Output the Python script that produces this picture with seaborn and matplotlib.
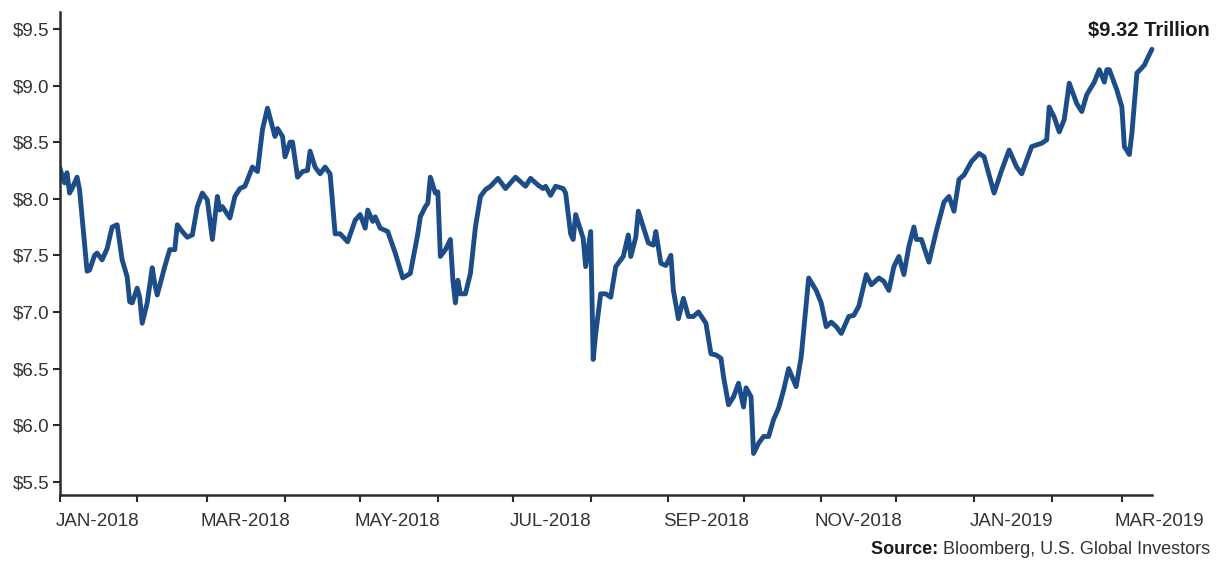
import numpy as np
import pandas as pd
import matplotlib
matplotlib.use("Agg")
import matplotlib.pyplot as plt
import matplotlib.dates as mdates
import matplotlib.ticker as mticker
import seaborn as sns

# ---- data ----
start_date = "2018-01-01"
day_offsets = [0, 1, 2, 3, 4, 5, 7, 8, 11, 12, 14, 15, 17, 19, 21, 23, 25, 27, 28, 29,
               31, 32, 33, 35, 37, 38, 39, 42, 44, 46, 47, 49, 51, 53, 55, 57, 59, 61, 63, 64,
               65, 68, 70, 72, 74, 77, 79, 81, 83, 86, 87, 89, 90, 92, 93, 95, 97, 99, 100, 102,
               104, 106, 108, 110, 112, 115, 118, 120, 122, 123, 125, 126, 128, 131, 134, 137, 140, 143, 144, 146,
               147, 148, 150, 151, 152, 154, 156, 157, 158, 159, 160, 162, 164, 166, 168, 170, 172, 175, 178, 180,
               182, 184, 186, 188, 191, 193, 194, 196, 198, 201, 202, 204, 205, 206, 208, 209, 210, 212, 213, 214,
               216, 218, 220, 222, 225, 227, 228, 230, 231, 233, 235, 237, 238, 240, 242, 244, 245, 247, 249, 251,
               253, 255, 258, 260, 262, 264, 265, 267, 269, 271, 273, 274, 276, 277, 279, 281, 283, 285, 287, 289,
               291, 294, 296, 299, 302, 304, 306, 308, 310, 312, 315, 317, 319, 322, 324, 327, 329, 331, 333, 335,
               337, 339, 341, 342, 344, 347, 350, 353, 355, 357, 359, 361, 364, 367, 369, 373, 376, 379, 382, 384,
               386, 388, 392, 394, 395, 397, 399, 401, 403, 406, 408, 410, 413, 415, 417, 418, 419, 422, 424, 425,
               427, 428, 430, 433, 434, 436]
market_value = [8.28, 8.21, 8.14, 8.23, 8.05, 8.09, 8.19, 8.08, 7.36, 7.37, 7.50, 7.52, 7.46, 7.56, 7.75, 7.77, 7.46, 7.31, 7.09, 7.08,
                7.21, 7.13, 6.90, 7.08, 7.39, 7.25, 7.15, 7.40, 7.55, 7.55, 7.77, 7.71, 7.66, 7.68, 7.93, 8.05, 7.99, 7.64, 8.02, 7.90,
                7.93, 7.83, 8.02, 8.09, 8.11, 8.28, 8.24, 8.61, 8.80, 8.55, 8.62, 8.55, 8.37, 8.50, 8.50, 8.19, 8.24, 8.25, 8.42, 8.28,
                8.22, 8.28, 8.22, 7.69, 7.69, 7.62, 7.81, 7.86, 7.74, 7.90, 7.80, 7.84, 7.74, 7.71, 7.52, 7.30, 7.34, 7.69, 7.84, 7.93,
                7.96, 8.19, 8.05, 8.06, 7.49, 7.55, 7.64, 7.28, 7.08, 7.28, 7.16, 7.16, 7.34, 7.75, 8.02, 8.08, 8.11, 8.18, 8.09, 8.14,
                8.19, 8.15, 8.11, 8.18, 8.12, 8.09, 8.11, 8.03, 8.11, 8.09, 8.05, 7.69, 7.64, 7.86, 7.72, 7.65, 7.40, 7.71, 6.58, 6.81,
                7.16, 7.16, 7.13, 7.40, 7.49, 7.68, 7.49, 7.66, 7.89, 7.75, 7.61, 7.59, 7.71, 7.43, 7.41, 7.50, 7.19, 6.94, 7.12, 6.96,
                6.96, 7.00, 6.90, 6.63, 6.62, 6.59, 6.43, 6.18, 6.25, 6.37, 6.16, 6.33, 6.25, 5.75, 5.84, 5.90, 5.90, 6.05, 6.15, 6.31,
                6.50, 6.34, 6.60, 7.30, 7.19, 7.08, 6.87, 6.91, 6.87, 6.81, 6.96, 6.97, 7.05, 7.33, 7.24, 7.30, 7.27, 7.19, 7.40, 7.49,
                7.33, 7.58, 7.75, 7.64, 7.64, 7.44, 7.72, 7.97, 8.02, 7.89, 8.17, 8.21, 8.33, 8.40, 8.37, 8.05, 8.25, 8.43, 8.28, 8.22,
                8.34, 8.46, 8.49, 8.52, 8.81, 8.72, 8.59, 8.70, 9.02, 8.84, 8.77, 8.92, 9.03, 9.14, 9.03, 9.14, 9.14, 8.96, 8.81, 8.46,
                8.39, 8.58, 9.11, 9.18, 9.23, 9.32]

y_ticks = [5.5, 6.0, 6.5, 7.0, 7.5, 8.0, 8.5, 9.0, 9.5]
month_labels = ["JAN-2018", "MAR-2018", "MAY-2018", "JUL-2018",
                "SEP-2018", "NOV-2018", "JAN-2019", "MAR-2019"]
label_dates = ["2018-01-16", "2018-03-16", "2018-05-16", "2018-07-16",
               "2018-09-16", "2018-11-16", "2019-01-16", "2019-03-16"]
end_label = "$9.32 Trillion"
source_bold = "Source:"
source_rest = "Bloomberg, U.S. Global Investors"

dates = pd.Timestamp(start_date) + pd.to_timedelta(day_offsets, unit="D")
df = pd.DataFrame({"date": dates, "value": market_value})

# ---- style ----
sns.set_style("white")
plt.rcParams["font.family"] = ["Liberation Sans", "DejaVu Sans"]
text_color = "#333333"
line_color = "#1c4d88"
axis_color = "#2b2b2b"

fig = plt.figure(figsize=(12.17, 5.62), dpi=100)
ax = fig.add_axes([0.0489, 0.1192, 0.9347, 0.8594])

sns.lineplot(data=df, x="date", y="value", ax=ax, color=line_color,
             linewidth=3.5, solid_joinstyle="round", solid_capstyle="round")

ax.set_xlim(pd.Timestamp("2018-01-01"), pd.Timestamp("2019-03-31"))
ax.set_ylim(5.383, 9.649)
ax.set_xlabel("")
ax.set_ylabel("")

# y axis
ax.yaxis.set_major_locator(mticker.FixedLocator(y_ticks))
ax.yaxis.set_major_formatter(mticker.FuncFormatter(lambda v, p: f"${v:.1f}"))
ax.tick_params(axis="y", which="major", direction="out", length=5, width=1.5,
               color=axis_color, labelsize=13.5, labelcolor=text_color, pad=2, left=True)

# x axis: month-start ticks (no labels), labels centred in the months
month_starts = pd.date_range("2018-01-01", "2019-03-01", freq="MS")
ax.xaxis.set_major_locator(mticker.FixedLocator(mdates.date2num(month_starts)))
ax.xaxis.set_major_formatter(mticker.NullFormatter())
ax.xaxis.set_minor_locator(mticker.FixedLocator(mdates.date2num(pd.to_datetime(label_dates))))
ax.xaxis.set_minor_formatter(mticker.FixedFormatter(month_labels))
ax.tick_params(axis="x", which="major", direction="out", length=5, width=1.5,
               color=axis_color, bottom=True)
ax.tick_params(axis="x", which="minor", length=0, pad=13, labelsize=13.5,
               labelcolor=text_color, bottom=True)
for lbl in ax.get_xticklabels(minor=True):
    lbl.set_family(["Liberation Sans Narrow", "Liberation Sans", "DejaVu Sans"])

for side in ["top", "right"]:
    ax.spines[side].set_visible(False)
for side in ["left", "bottom"]:
    ax.spines[side].set_color(axis_color)
    ax.spines[side].set_linewidth(1.8)
ax.spines["bottom"].set_bounds(mdates.date2num(pd.Timestamp("2018-01-01")),
                               mdates.date2num(pd.Timestamp("2019-03-13")))

# annotation of last value
fig.text(1210 / 1217, 1 - 30 / 562, end_label, ha="right", va="center",
         fontsize=14.5, fontweight="bold", color="#1a1a1a")

# source line
t_rest = fig.text(1210 / 1217, 1 - 549 / 562, source_rest, ha="right", va="center",
                  fontsize=13, color=text_color)
ax.annotate(source_bold + " ", xy=(0, 0.5), xycoords=t_rest, ha="right", va="center",
            fontsize=13, fontweight="bold", color="#1a1a1a", annotation_clip=False)

fig.savefig("out.png", dpi=100)
